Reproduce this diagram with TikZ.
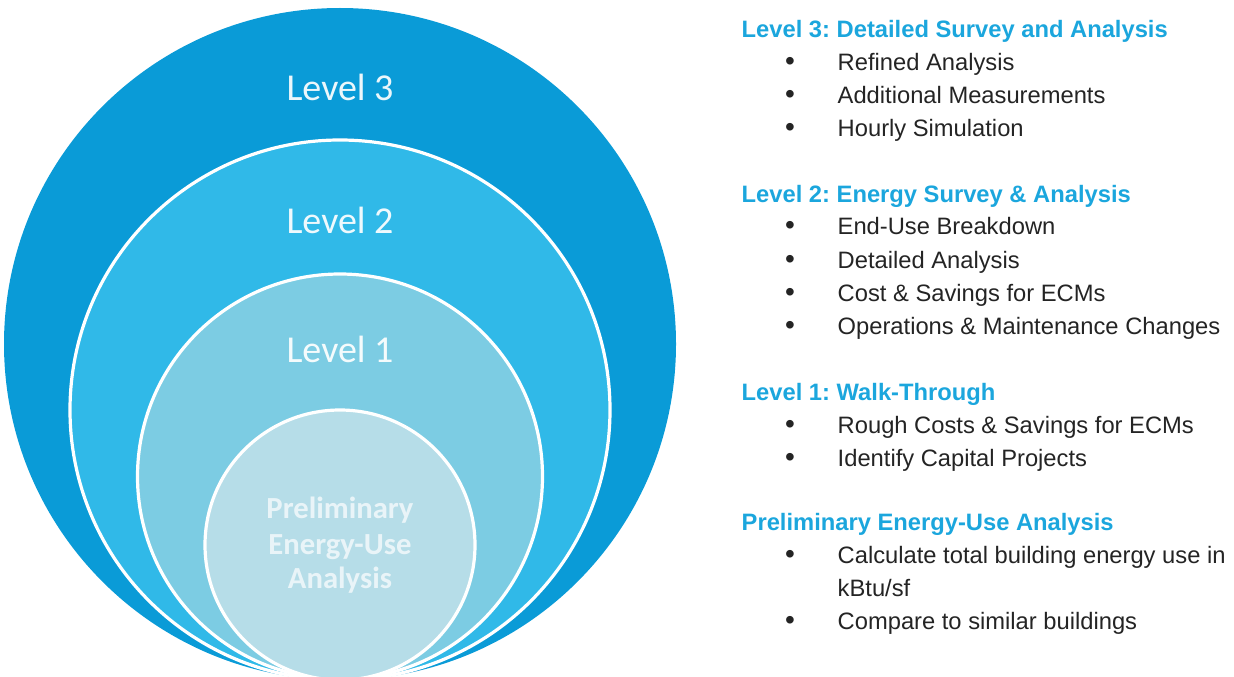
\documentclass[tikz,border=0pt]{standalone}
\usepackage{fontspec}
\setmainfont{Liberation Sans}
\newfontfamily\calibrish{Carlito}
\usetikzlibrary{positioning}
\frenchspacing
\definecolor{eadeep}{HTML}{0A9BD7}
\definecolor{eamid}{HTML}{30B9E8}
\definecolor{ealight}{HTML}{7CCCE3}
\definecolor{eapale}{HTML}{B6DDE8}
\definecolor{eahead}{HTML}{1BA6DD}
\definecolor{eatext}{HTML}{242424}

\tikzset{
  ring/.style={draw=white,line width=2.4pt},
  lvl/.style={text=white,text opacity=0.92,anchor=base,
    font=\calibrish\fontsize{28.5}{30}\selectfont},
  prelim/.style={text=white,text opacity=0.7,anchor=base,
    font=\calibrish\bfseries\fontsize{23}{26}\selectfont},
  head/.style={text=eahead,anchor=base west,
    font=\bfseries\fontsize{17.8}{20}\selectfont},
  item/.style={text=eatext,anchor=base west,
    font=\fontsize{17.8}{20}\selectfont},
  dot/.style={item,anchor=base,font=\fontsize{21}{20}\selectfont}
}

\begin{document}
\begin{tikzpicture}[x=0.75pt,y=0.75pt]
\useasboundingbox (0,0) rectangle (1234,676);

% nested levels, all touching at the bottom
\begin{scope}
\clip (0,0) rectangle (1234,676);
\fill[eadeep] (340,332) circle (336);
\filldraw[fill=eamid,ring] (340,266) circle (270);
\filldraw[fill=ealight,ring] (340,199.5) circle (202.5);
\filldraw[fill=eapale,ring] (340,131) circle (135);
\end{scope}

\node[lvl] (lvl3) at (340,575) {Level 3};
\node[lvl] (lvl2) at (340,443) {Level 2};
\node[lvl] (lvl1) at (340,314) {Level 1};
\node[prelim] (pre1) at (340,158) {Preliminary};
\node[prelim] (pre2) at (340,122) {Energy-Use};
\node[prelim] (pre3) at (340,88) {Analysis};

% descriptions
\node[head] (h3) at (737,638) {Level 3: Detailed Survey and Analysis};
\node[head] (h2) at (737,474) {Level 2: Energy Survey \& Analysis};
\node[head] (h1) at (737,276) {Level 1: Walk-Through};
\node[head] (h0) at (737,146) {Preliminary Energy-Use Analysis};

\foreach \y/\t in {605/Refined Analysis, 572/Additional Measurements,
    539/Hourly Simulation, 441/End-Use Breakdown, 408/Detailed Analysis,
    375/Cost \& Savings for ECMs, 342/Operations \& Maintenance Changes,
    243/Rough Costs \& Savings for ECMs, 210/Identify Capital Projects,
    113/Calculate total building energy use in, 47/Compare to similar buildings}{
  \node[dot] (b\y) at (790,\y) {\textbullet};
  \node[item] (t\y) at (833,\y) {\t};
}
\node[item] (t80) at (833,80) {kBtu/sf};
\end{tikzpicture}
\end{document}
